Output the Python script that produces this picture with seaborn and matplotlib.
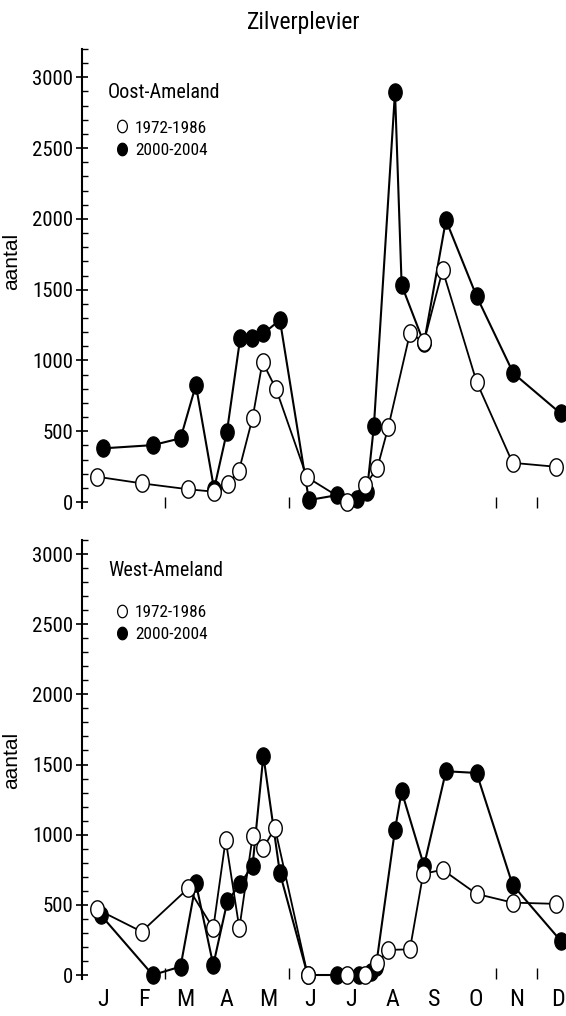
import numpy as np
import pandas as pd
import matplotlib
matplotlib.use("Agg")
import matplotlib.pyplot as plt
import seaborn as sns
from matplotlib import font_manager as fm
from matplotlib.path import Path
from matplotlib.lines import Line2D
from matplotlib.ticker import MultipleLocator, FixedLocator
from matplotlib.textpath import TextPath
import matplotlib.transforms as mtransforms

# ---- data: monthly counts (x in months since 1 January) ----
months = ["J", "F", "M", "A", "M", "J", "J", "A", "S", "O", "N", "D"]
periods = ["1972-1986", "2000-2004"]

oost_x_7286 = [0.36, 1.44, 2.57, 3.19, 3.53, 3.79, 4.12, 4.36, 4.69, 5.43,
               6.39, 6.84, 7.13, 7.40, 7.92, 8.26, 8.71, 9.53, 10.40, 11.45]
oost_y_7286 = [179, 132, 90, 73, 130, 221, 595, 990, 796, 176,
               2, 120, 238, 532, 1191, 1132, 1638, 849, 277, 249]

oost_x_0004 = [0.50, 1.71, 2.38, 2.75, 3.19, 3.50, 3.82, 4.11, 4.38, 4.78, 5.48,
               6.17, 6.65, 6.88, 7.05, 7.56, 7.72, 8.26, 8.79, 9.53, 10.42, 11.56]
oost_y_0004 = [379, 402, 450, 826, 92, 496, 1156, 1156, 1191, 1285, 14,
               49, 19, 70, 537, 2897, 1532, 1122, 1991, 1454, 909, 626]

west_x_7286 = [0.36, 1.44, 2.57, 3.17, 3.47, 3.80, 4.12, 4.38, 4.66, 5.45,
               6.39, 6.84, 7.13, 7.40, 7.92, 8.24, 8.71, 9.53, 10.40, 11.45]
west_y_7286 = [469, 309, 619, 333, 964, 333, 988, 905, 1048, 0,
               0, 0, 83, 179, 183, 721, 750, 578, 516, 507]

west_x_0004 = [0.45, 1.71, 2.38, 2.75, 3.17, 3.51, 3.82, 4.12, 4.38, 4.78, 5.45,
               6.15, 6.70, 6.98, 7.10, 7.56, 7.72, 8.26, 8.79, 9.53, 10.40, 11.56]
west_y_0004 = [429, 0, 60, 655, 71, 524, 650, 779, 1564, 726, 0,
               0, 0, 25, 60, 1036, 1309, 779, 1452, 1440, 643, 245]


def condensed_font():
    """Return FontProperties for a narrow sans face if one is installed."""
    prefs = ["liberation sans narrow", "arial narrow", "roboto condensed",
             "noto sans condensed", "open sans condensed", "dejavu sans condensed"]
    found = {}
    for f in fm.fontManager.ttflist:
        key = (f.name + " " + f.fname.split("/")[-1]).lower()
        if f.style != "normal" or f.weight not in (400, "normal", "regular"):
            continue
        if "extra" in key or "semi" in key or "ultra" in key:
            continue
        if not ("narrow" in key or "condensed" in key):
            continue
        for p in prefs:
            tokens = p.split()
            if all(t in key for t in tokens):
                found.setdefault(p, f.fname)
    for p in prefs:
        if p in found:
            return fm.FontProperties(fname=found[p])
    return fm.FontProperties(family="Liberation Sans")


sns.set_style("white")
plt.rcParams["font.family"] = ["Liberation Sans", "DejaVu Sans"]
plt.rcParams["text.color"] = "black"
plt.rcParams["xtick.color"] = "black"
plt.rcParams["ytick.color"] = "black"
plt.rcParams["axes.labelcolor"] = "black"

base_fp = condensed_font()


def fit(text, width_px, fp=base_fp):
    """Font size (pt) so that `text` spans about width_px pixels at 100 dpi."""
    w = TextPath((0, 0), text, size=10, prop=fp).get_extents().width
    return 10 * (width_px * 0.72) / w


def fp_size(size, fp=base_fp):
    p = fp.copy()
    p.set_size(size)
    return p


# upright elliptic marker
t = np.linspace(0, 2 * np.pi, 61)
ellipse = Path(np.column_stack([0.78 * np.cos(t), np.sin(t)]), closed=True)

fig = plt.figure(figsize=(5.66, 10.16), dpi=100)
ax_top = fig.add_axes([0.1449, 0.5003, 0.8551, 0.4515])
ax_bot = fig.add_axes([0.1449, 0.0362, 0.8551, 0.4323])

tick_size = fit("3000", 39)
month_size = fit("M", 14.5)
name_size = fit("West-Ameland", 113)
legend_size = fit("1972-1986", 70)
title_size = fit("Zilverplevier", 112)

panels = [
    (ax_top, "Oost-Ameland", oost_x_7286, oost_y_7286, oost_x_0004, oost_y_0004,
     (-40, 3200), 2890, 2695),
    (ax_bot, "West-Ameland", west_x_7286, west_y_7286, west_x_0004, west_y_0004,
     (-30, 3100), 2880, 2640),
]

for ax, name, xo, yo, xf, yf, ylim, name_y, leg_y in panels:
    df_old = pd.DataFrame({"maand": xo, "aantal": yo})
    df_new = pd.DataFrame({"maand": xf, "aantal": yf})
    sns.lineplot(data=df_new, x="maand", y="aantal", ax=ax, estimator=None,
                 color="black", lw=1.5, marker=ellipse, markersize=12.5,
                 markerfacecolor="black", markeredgecolor="black",
                 markeredgewidth=0.8, clip_on=False, zorder=3)
    sns.lineplot(data=df_old, x="maand", y="aantal", ax=ax, estimator=None,
                 color="black", lw=1.3, marker=ellipse, markersize=12.5,
                 markerfacecolor="white", markeredgecolor="black",
                 markeredgewidth=1.0, clip_on=False, zorder=4)

    ax.set_xlim(0, 11.69)
    ax.set_ylim(*ylim)
    for s in ["top", "right", "bottom"]:
        ax.spines[s].set_visible(False)
    ax.spines["left"].set_linewidth(1.5)
    ax.spines["left"].set_color("black")

    ax.set_yticks(range(0, 3001, 500))
    ax.yaxis.set_minor_locator(MultipleLocator(100))
    ax.tick_params(axis="y", which="major", direction="inout", length=9,
                   width=1.2, pad=2, left=True)
    ax.tick_params(axis="y", which="minor", direction="in", length=4,
                   width=1.0, left=True)
    for lab in ax.get_yticklabels():
        lab.set_fontproperties(fp_size(tick_size))

    ax.set_xticks(np.arange(12) + 0.5)
    ax.set_xticklabels(months)
    for lab in ax.get_xticklabels():
        lab.set_fontproperties(fp_size(month_size))
    ax.xaxis.set_minor_locator(FixedLocator([2, 5, 10, 11]))
    ax.tick_params(axis="x", which="major", length=0, pad=6)
    ax.tick_params(axis="x", which="minor", direction="in", length=8,
                   width=1.0, bottom=True)

    ax.set_xlabel("")
    ax.set_ylabel("aantal", fontsize=15)

    blend = mtransforms.blended_transform_factory(ax.transAxes, ax.transData)
    ax.text(0.054, name_y, name, transform=blend, ha="left", va="center",
            fontproperties=fp_size(name_size))
    handles = [
        Line2D([], [], ls="none", marker=ellipse, markersize=9,
               markerfacecolor="white", markeredgecolor="black", markeredgewidth=0.9),
        Line2D([], [], ls="none", marker=ellipse, markersize=9,
               markerfacecolor="black", markeredgecolor="black", markeredgewidth=0.9),
    ]
    ax.legend(handles, periods, loc="upper left", bbox_to_anchor=(0.072, leg_y),
              bbox_transform=blend, frameon=False, prop=fp_size(legend_size),
              borderpad=0, borderaxespad=0, handlelength=0.6, handletextpad=0.45,
              labelspacing=0.45)

ax_top.tick_params(axis="x", which="major", labelbottom=False)
ax_top.yaxis.set_label_coords(-0.126, 0.536)
ax_bot.yaxis.set_label_coords(-0.126, 0.499)

fig.text(0.537, 1 - 22 / 1016, "Zilverplevier", ha="center", va="center",
         fontproperties=fp_size(title_size))

fig.savefig("out.png", dpi=100)
